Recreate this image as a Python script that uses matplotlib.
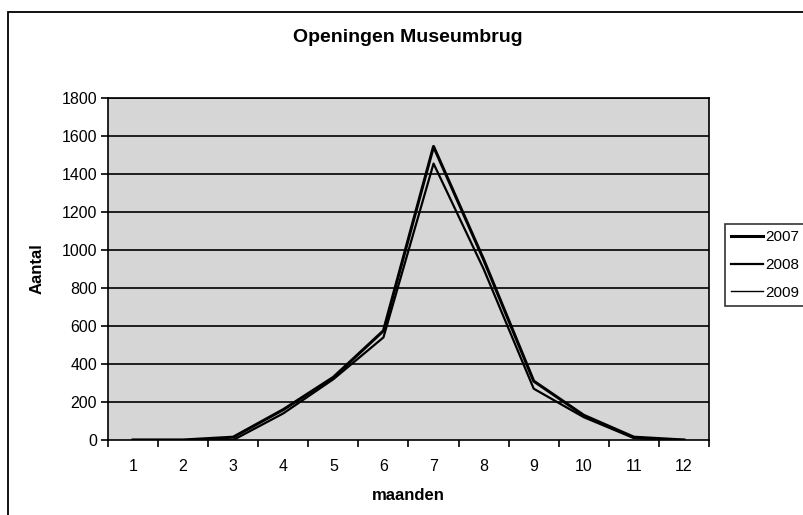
import numpy as np
import matplotlib
matplotlib.use("Agg")
import matplotlib.pyplot as plt
from matplotlib.patches import Rectangle

plt.rcParams['font.family'] = ['Liberation Sans', 'DejaVu Sans']

# data
maanden = [1, 2, 3, 4, 5, 6, 7, 8, 9, 10, 11, 12]
jaar_2007 = [0, 0, 15, 160, 330, 575, 1545, 950, 310, 130, 15, 0]
jaar_2008 = [0, 0, 0, 140, 320, 540, 1455, 900, 270, 120, 10, 0]
jaar_2009 = [0, 0, np.nan, np.nan, np.nan, np.nan, np.nan, np.nan, np.nan, np.nan, np.nan, np.nan]
y_ticks = [0, 200, 400, 600, 800, 1000, 1200, 1400, 1600, 1800]

fig = plt.figure(figsize=(8.04, 5.15), dpi=100)
ax = fig.add_axes([108/804, 1 - 440/515, 601/804, 342/515])

# outer chart border (cut off at right / bottom in the scan)
fig.patches.append(Rectangle((8/804, -0.05), 1.1, 1 - 12/515 + 0.05,
                             transform=fig.transFigure, fill=False,
                             edgecolor='black', linewidth=1.3))

ax.set_facecolor('#d6d6d6')
for y in y_ticks[1:]:
    ax.axhline(y, color='black', linewidth=1.2, zorder=1)

x = np.array(maanden)
l1, = ax.plot(x, jaar_2007, color='black', linewidth=2.2, zorder=3)
l2, = ax.plot(x, jaar_2008, color='black', linewidth=1.6, zorder=3)
l3, = ax.plot(x, jaar_2009, color='black', linewidth=1.0, zorder=3)

ax.set_xlim(0.5, 12.5)
ax.set_ylim(0, 1800)
ax.set_yticks(y_ticks)
ax.set_xticks(np.arange(0.5, 13, 1))
ax.set_xticklabels([])
ax.set_xticks(x, minor=True)
ax.set_xticklabels([str(m) for m in maanden], minor=True)
ax.tick_params(axis='x', which='minor', length=0, pad=14, labelsize=11.5)
ax.tick_params(axis='x', which='major', direction='out', length=5, width=1.2)
ax.tick_params(axis='y', direction='out', length=5, width=1.2, labelsize=11.5, pad=3)

for s in ax.spines.values():
    s.set_linewidth(1.2)
    s.set_color('black')

ax.set_xlabel('maanden', fontsize=12, fontweight='bold', labelpad=10)
ax.set_ylabel('Aantal', fontsize=12, fontweight='bold', labelpad=12)
fig.text(408/804, 1 - 38/515, 'Openingen Museumbrug', ha='center', va='center',
         fontsize=14, fontweight='bold')

leg = fig.legend([l1, l2, l3], ['2007', '2008', '2009'], loc='upper left',
                 bbox_to_anchor=(725/804, 1 - 224/515), frameon=True,
                 fancybox=False, fontsize=11, handlelength=2.1,
                 handletextpad=0.15, labelspacing=0.9, borderpad=0.4,
                 borderaxespad=0)
leg.get_frame().set_edgecolor('black')
leg.get_frame().set_linewidth(1.2)

fig.savefig('out.png', dpi=100, facecolor='white')
